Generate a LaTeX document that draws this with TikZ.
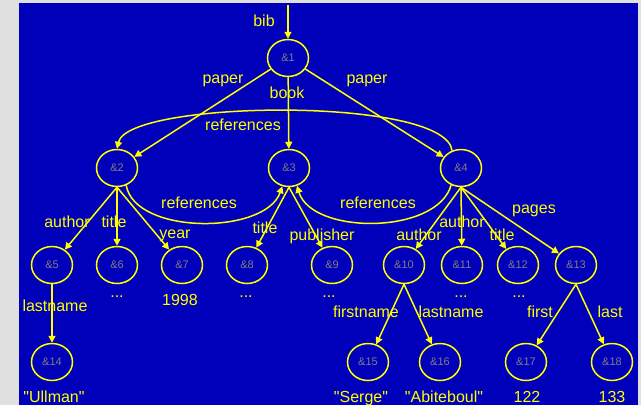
\documentclass[tikz,border=0pt]{standalone}
\usepackage{fontspec}
\setmainfont{Liberation Sans}
\usepackage{xcolor}
\usetikzlibrary{shapes.geometric,arrows.meta}
\definecolor{slideblue}{RGB}{0,0,187}
\definecolor{slidegray}{RGB}{224,224,224}
\definecolor{oemyellow}{RGB}{255,255,0}
\definecolor{oidgray}{RGB}{128,128,128}

\tikzset{
    oid/.style={draw=oemyellow, ellipse, line width=1.5pt, minimum width=41pt, minimum height=37pt, inner sep=0pt, text=oidgray, font=\fontsize{11}{12}\selectfont},
    lbl/.style={text=oemyellow, anchor=base, inner sep=0pt, font=\fontsize{16}{18}\selectfont},
    conn/.style={draw=oemyellow, line width=1.5pt, -{Triangle[length=7pt,width=7pt]}}
}

\begin{document}
\begin{tikzpicture}[x=1pt,y=-1pt]
        \useasboundingbox (0,0) rectangle (641,405);
        \fill[slidegray] (0,0) rectangle (641,405);
        \fill[slideblue] (19,3) rectangle (638,405);

        \node[oid] (n1) at (288,58) {\&1};
        \node[oid] (n2) at (117,168) {\&2};
        \node[oid] (n3) at (289,168) {\&3};
        \node[oid] (n4) at (461,168) {\&4};
        \node[oid] (n5) at (52,265) {\&5};
        \node[oid] (n6) at (117,265) {\&6};
        \node[oid] (n7) at (182,265) {\&7};
        \node[oid] (n8) at (247,265) {\&8};
        \node[oid] (n9) at (332,265) {\&9};
        \node[oid] (n10) at (404,265) {\&10};
        \node[oid] (n11) at (462,265) {\&11};
        \node[oid] (n12) at (518,265) {\&12};
        \node[oid] (n13) at (576,265) {\&13};
        \node[oid] (n14) at (52,362) {\&14};
        \node[oid] (n15) at (368,362) {\&15};
        \node[oid] (n16) at (440,362) {\&16};
        \node[oid] (n17) at (526,362) {\&17};
        \node[oid] (n18) at (612,362) {\&18};
        \coordinate (root) at (288,5);

        \draw[conn] (root) -- (n1);
        \draw[conn] (n1) -- (n2);
        \draw[conn] (n1) -- (n3);
        \draw[conn] (n1) -- (n4);
        \draw[conn] (n2.south) -- (n5);
        \draw[conn] (n2.south) -- (n6);
        \draw[conn] (n2.south) -- (n7);
        \draw[conn] (n3.south) -- (n8);
        \draw[conn] (n3.south) -- (n9);
        \draw[conn] (n4.south) -- (n10);
        \draw[conn] (n4.south) -- (n11);
        \draw[conn] (n4.south) -- (n12);
        \draw[conn] (n4.south) -- (n13);
        \draw[conn] (n5) -- (n14);
        \draw[conn] (n10.south) -- (n15);
        \draw[conn] (n10.south) -- (n16);
        \draw[conn] (n13.south) -- (n17);
        \draw[conn] (n13.south) -- (n18);
        \draw[conn] (n4.117) .. controls (445,96) and (128,100) .. (n2.north);
        \draw[conn] (n2.-62) .. controls (135,235) and (265,235) .. (n3.-110);
        \draw[conn] (n4.-120) .. controls (437,235) and (312,235) .. (n3.-66);

        \node[lbl] (lbib) at (264,26) {bib};
        \node[lbl] (lpaperl) at (223,83) {paper};
        \node[lbl] (lbook) at (287,98) {book};
        \node[lbl] (lpaperr) at (367,83) {paper};
        \node[lbl] (lrefstop) at (243,130) {references};
        \node[lbl] (lrefsl) at (199,208) {references};
        \node[lbl] (lrefsr) at (378,208) {references};
        \node[lbl] (lauthor5) at (67,227) {author};
        \node[lbl] (ltitle6) at (114,227) {title};
        \node[lbl] (lyear) at (175,238) {year};
        \node[lbl] (ltitle8) at (265,233) {title};
        \node[lbl] (lpublisher) at (322,240) {publisher};
        \node[lbl] (lauthor10) at (419,240) {author};
        \node[lbl] (lauthor11) at (462,227) {author};
        \node[lbl] (ltitle12) at (502,240) {title};
        \node[lbl] (lpages) at (534,213) {pages};
        \node[lbl] (llastname14) at (55,311) {lastname};
        \node[lbl] (lfirstname) at (366,317) {firstname};
        \node[lbl] (llastname16) at (451,317) {lastname};
        \node[lbl] (lfirst) at (540,317) {first};
        \node[lbl] (llast) at (610,317) {last};

        \node[lbl] (v6) at (117,297) {...};
        \node[lbl] (v7) at (180,305) {1998};
        \node[lbl] (v8) at (246,297) {...};
        \node[lbl] (v9) at (329,297) {...};
        \node[lbl] (v11) at (461,297) {...};
        \node[lbl] (v12) at (519,297) {...};
        \node[lbl] (v14) at (54,402) {\textquotedbl Ullman\textquotedbl};
        \node[lbl] (v15) at (361,402) {\textquotedbl Serge\textquotedbl};
        \node[lbl] (v16) at (444,402) {\textquotedbl Abiteboul\textquotedbl};
        \node[lbl] (v17) at (527,402) {122};
        \node[lbl] (v18) at (612,402) {133};
\end{tikzpicture}
\end{document}
